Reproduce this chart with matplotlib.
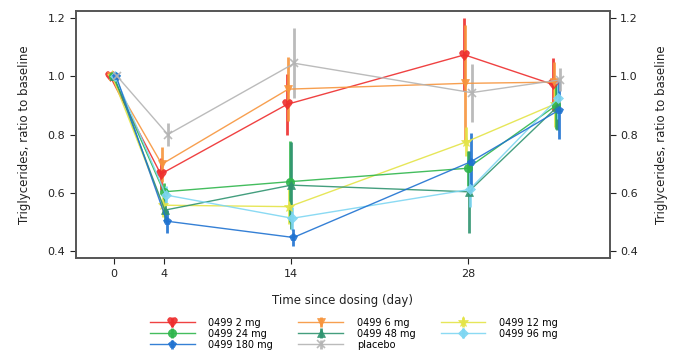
import matplotlib
matplotlib.use("Agg")
import matplotlib.pyplot as plt
import numpy as np

days = [0, 4, 14, 28, 35]
xticks = [0, 4, 14, 28]
series_names = ["0499 2 mg", "0499 6 mg", "0499 12 mg", "0499 24 mg",
                "0499 48 mg", "0499 96 mg", "0499 180 mg", "placebo"]

mean_2mg = [1.00, 0.664, 0.904, 1.074, 0.972]
mean_6mg = [1.00, 0.698, 0.956, 0.976, 0.980]
mean_12mg = [1.00, 0.557, 0.552, 0.775, 0.905]
mean_24mg = [1.00, 0.603, 0.638, 0.684, 0.900]
mean_48mg = [1.00, 0.540, 0.626, 0.603, 0.895]
mean_96mg = [1.00, 0.592, 0.512, 0.611, 0.925]
mean_180mg = [1.00, 0.502, 0.446, 0.706, 0.884]
mean_placebo = [1.00, 0.800, 1.045, 0.944, 0.988]

err_2mg = [0.01, 0.055, 0.105, 0.125, 0.09]
err_6mg = [0.01, 0.06, 0.11, 0.20, 0.07]
err_12mg = [0.01, 0.04, 0.06, 0.05, 0.08]
err_24mg = [0.01, 0.03, 0.14, 0.06, 0.08]
err_48mg = [0.01, 0.04, 0.15, 0.14, 0.08]
err_96mg = [0.01, 0.03, 0.04, 0.06, 0.07]
err_180mg = [0.01, 0.04, 0.03, 0.10, 0.10]
err_placebo = [0.01, 0.04, 0.12, 0.10, 0.04]

means = [mean_2mg, mean_6mg, mean_12mg, mean_24mg, mean_48mg, mean_96mg, mean_180mg, mean_placebo]
errs = [err_2mg, err_6mg, err_12mg, err_24mg, err_48mg, err_96mg, err_180mg, err_placebo]
colors = ["#ee2d2d", "#f7953d", "#e4e447", "#2fb64c", "#2f9470", "#7ed6f2", "#1f72d1", "#b4b4b4"]
markers = ["$\u2665$", "v", "*", "o", "^", "D", "p", "x"]
msizes = [7, 6, 8, 6, 6, 5, 6, 6]

fig = plt.figure(figsize=(6.76, 3.54), dpi=100)
ax = fig.add_axes([0.112, 0.270, 0.790, 0.700])

n = len(series_names)
for i in range(n):
    off = (i - (n - 1) / 2) * 0.08
    x = np.array(days) + off
    ax.errorbar(x, means[i], yerr=errs[i], color=colors[i], marker=markers[i],
                markersize=msizes[i], linewidth=1.0, elinewidth=2.0, capsize=0,
                alpha=0.9, label=series_names[i], markeredgewidth=1.2 if markers[i] == "x" else 0.5)

ax.set_xlim(-3, 39.2)
ax.set_ylim(0.374, 1.226)
ax.set_xticks(xticks)
ax.set_yticks([0.4, 0.6, 0.8, 1.0, 1.2])
ax.set_yticklabels(["0.4", "0.6", "0.8", "1.0", "1.2"])
ax.set_xlabel("Time since dosing (day)", fontsize=8.5, color="#222222", labelpad=11)
ax.set_ylabel("Triglycerides, ratio to baseline", fontsize=8.5, color="#222222", labelpad=12)
for sp in ax.spines.values():
    sp.set_color("#555555")
    sp.set_linewidth(1.2)
ax.tick_params(labelsize=8, colors="#222222", length=4)

ax2 = ax.twinx()
ax2.set_ylim(ax.get_ylim())
ax2.set_yticks([0.4, 0.6, 0.8, 1.0, 1.2])
ax2.set_yticklabels(["0.4", "0.6", "0.8", "1.0", "1.2"])
ax2.set_ylabel("Triglycerides, ratio to baseline", fontsize=8.5, color="#222222", labelpad=12)
ax2.tick_params(labelsize=8, colors="#222222", length=4)
for sp in ax2.spines.values():
    sp.set_color("#555555")
    sp.set_linewidth(1.2)

handles, labels = ax.get_legend_handles_labels()
order = [0, 3, 6, 1, 4, 7, 2, 5]
fig.legend([handles[k] for k in order], [labels[k] for k in order],
           loc="upper left", bbox_to_anchor=(0.222, 0.103),
           ncol=3, frameon=False, fontsize=7, handlelength=4.6,
           columnspacing=2.6, labelspacing=0.12, handletextpad=1.4,
           borderaxespad=0, borderpad=0)

fig.savefig("out.png", dpi=100)
